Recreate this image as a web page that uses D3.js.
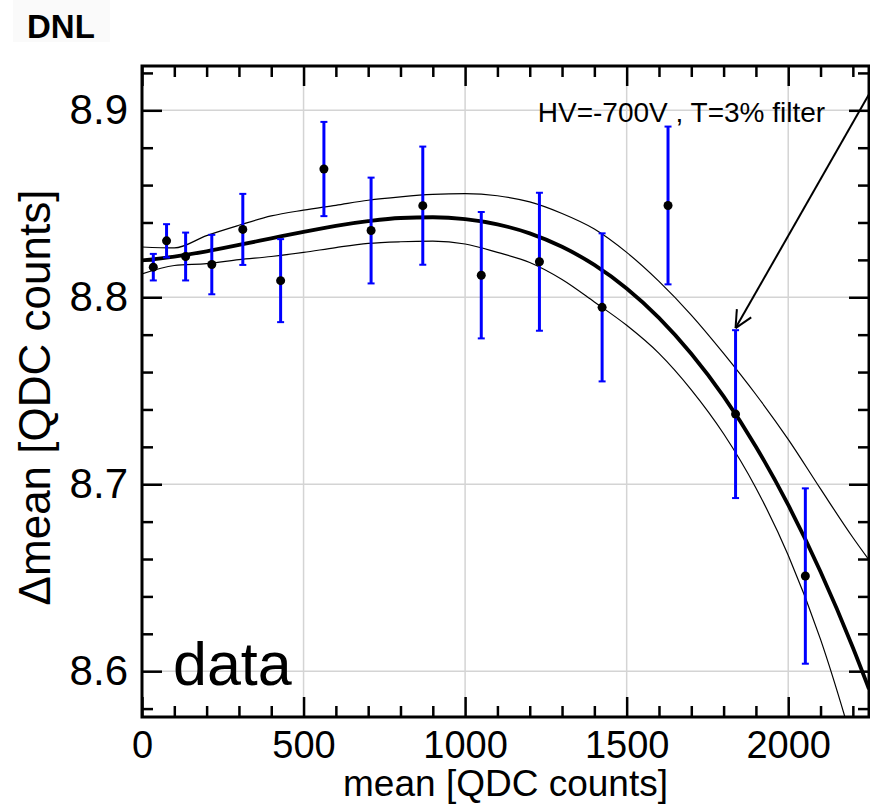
<!DOCTYPE html>
<html>
<head>
<meta charset="utf-8">
<script src="https://cdn.jsdelivr.net/npm/d3@7"></script>
<style>
  body { margin: 0; background: #fff; }
  svg text { font-family: "Liberation Sans", Arial, sans-serif; }
</style>
</head>
<body>
<div id="chart"></div>
<script>
// measured points: mean [QDC counts], Δmean and error
const pointX = [35, 76, 135, 216, 312, 429, 563, 709, 869, 1050, 1230, 1424, 1628, 1837, 2053];
const pointY = [8.8161, 8.8302, 8.8218, 8.8175, 8.8363, 8.8089, 8.8686, 8.8357, 8.849, 8.8118, 8.819, 8.7946, 8.8491, 8.7375, 8.6509];
const pointErr = [0.0071, 0.0089, 0.0128, 0.0159, 0.019, 0.0222, 0.0252, 0.0283, 0.0316, 0.0338, 0.0369, 0.0396, 0.0422, 0.0449, 0.0469];

// fit curve and its band
const curveX = [0, 100, 200, 300, 400, 500, 600, 700, 800, 900, 1000, 1100, 1200, 1300, 1400, 1500, 1600, 1700, 1800, 1900, 2000, 2100, 2200, 2250];
const fitY = [8.8197, 8.8218, 8.8246, 8.8280, 8.8315, 8.8350, 8.8382, 8.8407, 8.8424, 8.8428, 8.8418, 8.8390, 8.8342, 8.8270, 8.8173, 8.8047, 8.7890, 8.7698, 8.7470, 8.7201, 8.6889, 8.6532, 8.6127, 8.5905];
const upperY = [8.8269, 8.8264, 8.8330, 8.8385, 8.8435, 8.8466, 8.8492, 8.8519, 8.8537, 8.8550, 8.8554, 8.8543, 8.8510, 8.8448, 8.8365, 8.8240, 8.8085, 8.7905, 8.7700, 8.7480, 8.7240, 8.6975, 8.6715, 8.6595];
const lowerY = [8.8125, 8.8170, 8.8180, 8.8201, 8.8218, 8.8240, 8.8266, 8.8288, 8.8297, 8.8300, 8.8285, 8.8240, 8.8186, 8.8095, 8.7975, 8.7850, 8.7700, 8.7505, 8.7270, 8.6980, 8.6620, 8.6170, 8.5610, 8.5300];

const xTicks = [0, 500, 1000, 1500, 2000];
const yTicks = [8.6, 8.7, 8.8, 8.9];

const W = 870, H = 805;
const margin = { left: 142, top: 66, right: 1, bottom: 88 };
const w = W - margin.left - margin.right;
const h = H - margin.top - margin.bottom;

const x = d3.scaleLinear().domain([0, 2250]).range([0, w]);
const y = d3.scaleLinear().domain([8.5755, 8.9237]).range([h, 0]);

const svg = d3.select("#chart").append("svg")
    .attr("width", W)
    .attr("height", H);

// title box
svg.append("rect")
    .attr("x", 13).attr("y", 0).attr("width", 97).attr("height", 42)
    .attr("fill", "#fafafa");
svg.append("text")
    .attr("x", 27).attr("y", 38)
    .attr("font-size", 33)
    .attr("font-weight", "bold")
    .text("DNL");

const g = svg.append("g").attr("transform", `translate(${margin.left},${margin.top})`);

g.append("clipPath").attr("id", "clip")
    .append("rect").attr("width", w).attr("height", h);

// grid
g.selectAll(".gx").data(xTicks.slice(1)).enter().append("line")
    .attr("x1", d => x(d)).attr("x2", d => x(d))
    .attr("y1", 0).attr("y2", h)
    .attr("stroke", "#d4d4d4").attr("stroke-width", 1.5);
g.selectAll(".gy").data(yTicks).enter().append("line")
    .attr("x1", 0).attr("x2", w)
    .attr("y1", d => y(d)).attr("y2", d => y(d))
    .attr("stroke", "#d4d4d4").attr("stroke-width", 1.5);

// axes, ticks pointing inward
const minorX = d3.range(0, 2251, 100).filter(v => v % 500 !== 0);
const minorY = d3.range(8.58, 8.925, 0.02).filter(v => Math.abs(v * 10 - Math.round(v * 10)) > 0.01);

function styleAxis(sel) {
    sel.select(".domain").remove();
    sel.selectAll("line").attr("stroke", "#000").attr("stroke-width", 2.5);
}

g.append("g").attr("transform", `translate(0,${h})`)
    .call(d3.axisBottom(x).tickValues(xTicks).tickSize(-20).tickPadding(14).tickFormat(d3.format("d")))
    .call(styleAxis)
    .selectAll("text").attr("font-size", 38).attr("fill", "#000")
    .attr("font-family", "Liberation Sans, Arial, sans-serif");
g.append("g").attr("transform", `translate(0,${h})`)
    .call(d3.axisBottom(x).tickValues(minorX).tickSize(-11).tickFormat(""))
    .call(styleAxis);
g.append("g")
    .call(d3.axisTop(x).tickValues(xTicks).tickSize(-20).tickFormat(""))
    .call(styleAxis);
g.append("g")
    .call(d3.axisTop(x).tickValues(minorX).tickSize(-11).tickFormat(""))
    .call(styleAxis);

g.append("g")
    .call(d3.axisLeft(y).tickValues(yTicks).tickSize(-20).tickPadding(14).tickFormat(d3.format(".1f")))
    .call(styleAxis)
    .selectAll("text").attr("font-size", 42).attr("fill", "#000")
    .attr("font-family", "Liberation Sans, Arial, sans-serif");
g.append("g")
    .call(d3.axisLeft(y).tickValues(minorY).tickSize(-11).tickFormat(""))
    .call(styleAxis);
g.append("g").attr("transform", `translate(${w},0)`)
    .call(d3.axisRight(y).tickValues(yTicks).tickSize(-20).tickFormat(""))
    .call(styleAxis);
g.append("g").attr("transform", `translate(${w},0)`)
    .call(d3.axisRight(y).tickValues(minorY).tickSize(-11).tickFormat(""))
    .call(styleAxis);

// fit curve and band
const curves = g.append("g").attr("clip-path", "url(#clip)");
const lineOf = arr => d3.line()
    .x((d, i) => x(curveX[i]))
    .y(d => y(d))
    .curve(d3.curveMonotoneX)(arr);

curves.append("path").attr("d", lineOf(upperY))
    .attr("fill", "none").attr("stroke", "#000").attr("stroke-width", 1.2);
curves.append("path").attr("d", lineOf(lowerY))
    .attr("fill", "none").attr("stroke", "#000").attr("stroke-width", 1.2);
curves.append("path").attr("d", lineOf(fitY))
    .attr("fill", "none").attr("stroke", "#000").attr("stroke-width", 3.8);

// error bars
const pts = pointX.map((v, i) => ({ x: v, y: pointY[i], e: pointErr[i] }));
const bars = g.append("g").attr("stroke", "#0000ff");
bars.selectAll(".eb").data(pts).enter().append("line")
    .attr("x1", d => x(d.x)).attr("x2", d => x(d.x))
    .attr("y1", d => y(d.y + d.e)).attr("y2", d => y(d.y - d.e))
    .attr("stroke-width", 3);
bars.selectAll(".capT").data(pts).enter().append("line")
    .attr("x1", d => x(d.x) - 3.5).attr("x2", d => x(d.x) + 3.5)
    .attr("y1", d => y(d.y + d.e)).attr("y2", d => y(d.y + d.e))
    .attr("stroke-width", 2);
bars.selectAll(".capB").data(pts).enter().append("line")
    .attr("x1", d => x(d.x) - 3.5).attr("x2", d => x(d.x) + 3.5)
    .attr("y1", d => y(d.y - d.e)).attr("y2", d => y(d.y - d.e))
    .attr("stroke-width", 2);

g.selectAll(".pt").data(pts).enter().append("circle")
    .attr("cx", d => x(d.x)).attr("cy", d => y(d.y))
    .attr("r", 4.5).attr("fill", "#000");

// frame
g.append("rect").attr("width", w).attr("height", h)
    .attr("fill", "none").attr("stroke", "#000").attr("stroke-width", 3);

// annotation and arrow
g.append("text")
    .attr("x", x(1225)).attr("y", y(8.9) + 12)
    .attr("font-size", 28)
    .text("HV=-700V , T=3% filter");

const tip = [x(1837), y(8.7835)];
const tail = [x(2262), y(8.9122)];
const ang = Math.atan2(tail[1] - tip[1], tail[0] - tip[0]);
g.append("line")
    .attr("x1", tail[0]).attr("y1", tail[1]).attr("x2", tip[0]).attr("y2", tip[1])
    .attr("stroke", "#000").attr("stroke-width", 2);
[0.45, -0.45].forEach(da => {
    g.append("line")
        .attr("x1", tip[0]).attr("y1", tip[1])
        .attr("x2", tip[0] + 19 * Math.cos(ang + da)).attr("y2", tip[1] + 19 * Math.sin(ang + da))
        .attr("stroke", "#000").attr("stroke-width", 2);
});

g.append("text")
    .attr("x", 31).attr("y", y(8.6) + 14)
    .attr("font-size", 61)
    .text("data");

// axis titles
svg.append("text")
    .attr("x", margin.left + w / 2).attr("y", 796)
    .attr("text-anchor", "middle")
    .attr("font-size", 37)
    .text("mean [QDC counts]");

svg.append("text")
    .attr("transform", `translate(50,${margin.top + h / 2 + 6}) rotate(-90)`)
    .attr("text-anchor", "middle")
    .attr("font-size", 44)
    .text("Δmean [QDC counts]");
</script>
</body>
</html>
